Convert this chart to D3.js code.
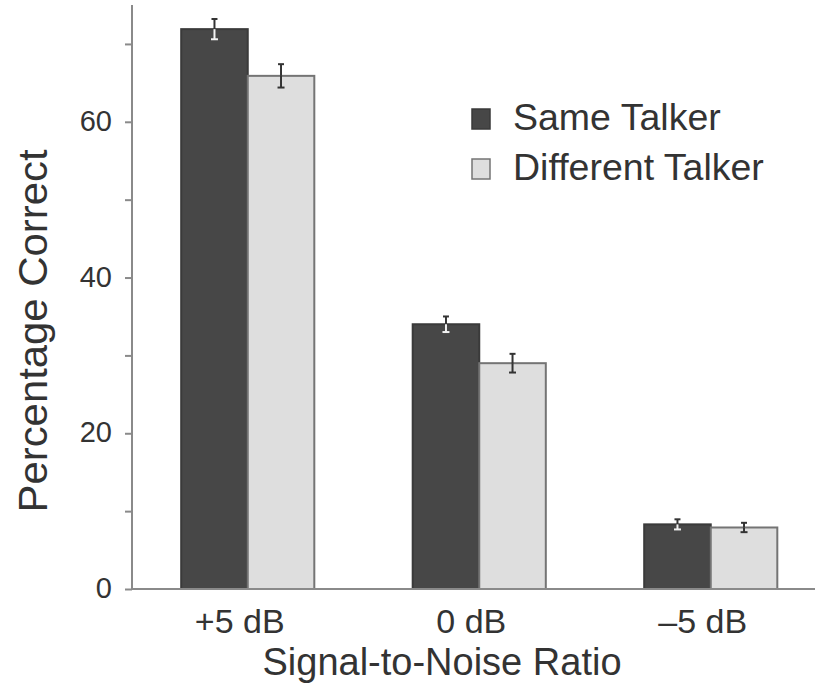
<!DOCTYPE html>
<html lang="en">
<head>
    <meta charset="UTF-8">
    <title>Percentage Correct by Signal-to-Noise Ratio</title>
    <script src="https://d3js.org/d3.v7.min.js"></script>
    <style>
        body { margin: 0; background: #fff; }
        text { font-family: "Liberation Sans", Arial, sans-serif; fill: #333; }
    </style>
</head>
<body>
<div id="chart"></div>
<script>

// Data
const conditions = ["+5 dB", "0 dB", "\u20135 dB"];
const seriesNames = ["Same Talker", "Different Talker"];
const sameTalker = [71.9, 34.0, 8.3];
const sameTalkerErr = [1.3, 1.0, 0.65];
const diffTalker = [65.9, 29.0, 7.9];
const diffTalkerErr = [1.5, 1.2, 0.6];
const yTicks = [0, 10, 20, 30, 40, 50, 60, 70];
const yLabelTicks = [0, 20, 40, 60];

const width = 815;
const height = 698;

const fills = { "Same Talker": "#474747", "Different Talker": "#dedede" };
const strokes = { "Same Talker": "#3a3a3a", "Different Talker": "#747474" };

const rows = conditions.map((c, i) => ({
    condition: c,
    values: [
        { series: seriesNames[0], value: sameTalker[i], err: sameTalkerErr[i] },
        { series: seriesNames[1], value: diffTalker[i], err: diffTalkerErr[i] }
    ]
}));

const svg = d3.select("#chart").append("svg")
    .attr("width", width)
    .attr("height", height);

const x0 = d3.scaleBand()
    .domain(conditions)
    .range([132, 826.5])
    .paddingInner(0.425)
    .paddingOuter(0.2125);

const x1 = d3.scaleBand()
    .domain(seriesNames)
    .range([0, x0.bandwidth()]);

const y = d3.scaleLinear()
    .domain([0, 75])
    .range([589, 5]);

// y axis
const yAxis = svg.append("g")
    .attr("transform", "translate(132,0)")
    .call(d3.axisLeft(y).tickValues(yTicks).tickSize(7)
        .tickFormat(d => yLabelTicks.includes(d) ? d : ""));
yAxis.select(".domain").attr("stroke", "#8a8a8a").attr("stroke-width", 2)
    .attr("d", "M0," + y(75) + "V" + y(0));
yAxis.selectAll(".tick line").attr("stroke", "#8a8a8a").attr("stroke-width", 2);
yAxis.selectAll(".tick text")
    .attr("x", -20)
    .attr("dy", "0.3em")
    .style("font-size", "29px")
    .style("font-family", "'Liberation Sans', Arial, sans-serif")
    .attr("fill", "#333");

// bars
const groups = svg.selectAll("g.group")
    .data(rows)
    .enter()
    .append("g")
    .attr("class", "group")
    .attr("transform", d => "translate(" + x0(d.condition) + ",0)");

groups.selectAll("rect")
    .data(d => d.values)
    .enter()
    .append("rect")
    .attr("x", d => x1(d.series))
    .attr("y", d => y(d.value))
    .attr("width", x1.bandwidth())
    .attr("height", d => y(0) - y(d.value))
    .attr("fill", d => fills[d.series])
    .attr("stroke", d => strokes[d.series])
    .attr("stroke-width", 2);

// error bars: part above the bar top, and part inside the bar
const errG = groups.selectAll("g.err")
    .data(d => d.values)
    .enter()
    .append("g")
    .attr("class", "err");

const cx = d => x1(d.series) + x1.bandwidth() / 2;
const inner = d => d.series === "Same Talker" ? "#f2f2f2" : "#333";

errG.append("line")
    .attr("x1", cx).attr("x2", cx)
    .attr("y1", d => y(d.value + d.err)).attr("y2", d => y(d.value))
    .attr("stroke", "#333").attr("stroke-width", 2);
errG.append("line")
    .attr("x1", d => cx(d) - 3).attr("x2", d => cx(d) + 3)
    .attr("y1", d => y(d.value + d.err)).attr("y2", d => y(d.value + d.err))
    .attr("stroke", "#333").attr("stroke-width", 2);
errG.append("line")
    .attr("x1", cx).attr("x2", cx)
    .attr("y1", d => y(d.value)).attr("y2", d => y(d.value - d.err))
    .attr("stroke", inner).attr("stroke-width", 2);
errG.append("line")
    .attr("x1", d => cx(d) - 3.5).attr("x2", d => cx(d) + 3.5)
    .attr("y1", d => y(d.value - d.err)).attr("y2", d => y(d.value - d.err))
    .attr("stroke", inner).attr("stroke-width", 2);

// x axis
const xAxis = svg.append("g")
    .attr("transform", "translate(0," + y(0) + ")")
    .call(d3.axisBottom(x0).tickSize(0).tickPadding(0));
xAxis.select(".domain").attr("stroke", "#8a8a8a").attr("stroke-width", 2)
    .attr("d", "M132,0H815");
xAxis.selectAll(".tick text")
    .attr("y", 44)
    .attr("dy", 0)
    .attr("dx", -8)
    .style("font-size", "34px")
    .style("font-family", "'Liberation Sans', Arial, sans-serif")
    .attr("fill", "#333");

// axis titles
svg.append("text")
    .attr("x", 442)
    .attr("y", 675)
    .attr("text-anchor", "middle")
    .style("font-size", "38px")
    .text("Signal-to-Noise Ratio");

svg.append("text")
    .attr("transform", "translate(47,331) rotate(-90)")
    .attr("text-anchor", "middle")
    .attr("textLength", 363)
    .attr("lengthAdjust", "spacingAndGlyphs")
    .style("font-size", "41px")
    .text("Percentage Correct");

// legend
const legend = svg.selectAll("g.legend")
    .data(seriesNames)
    .enter()
    .append("g")
    .attr("class", "legend")
    .attr("transform", (d, i) => "translate(472," + (109 + i * 50) + ")");

legend.append("rect")
    .attr("width", 18)
    .attr("height", 20)
    .attr("fill", d => fills[d])
    .attr("stroke", d => strokes[d])
    .attr("stroke-width", 1.5);

legend.append("text")
    .attr("x", 41)
    .attr("y", 21)
    .style("font-size", "37.5px")
    .text(d => d);

</script>
</body>
</html>
